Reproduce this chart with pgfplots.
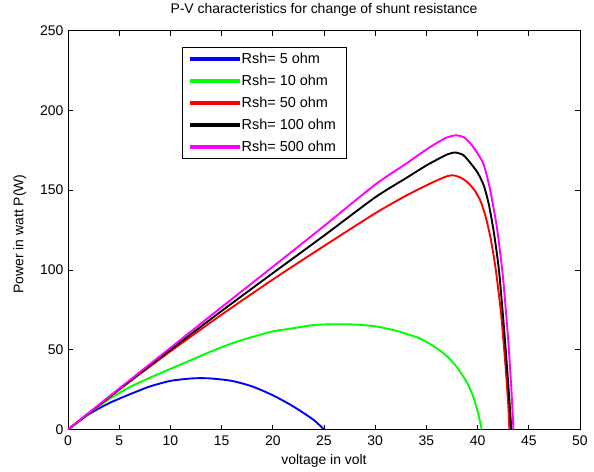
\documentclass[border=0pt]{standalone}
\usepackage{pgfplots}
\pgfplotsset{compat=1.18}
\usepackage{fontspec}
\setmainfont{Liberation Sans}
\definecolor{mblue}{rgb}{0,0,1}
\definecolor{mgreen}{rgb}{0,1,0}
\definecolor{mred}{rgb}{1,0,0}
\definecolor{mmag}{rgb}{1,0,1}
\begin{document}
\begin{tikzpicture}
\begin{axis}[
  scale only axis,
  width=512bp, height=399bp,
  xmin=0, xmax=50, ymin=0, ymax=250,
  xtick={0,5,...,50}, ytick={0,50,...,250},
  tick align=inside,
  tick pos=both,
  axis line style={line width=1pt},
  major tick style={line width=0.8pt, black},
  major tick length=5bp,
  font=\fontsize{14}{16}\selectfont,
  /pgf/number format/assume math mode=true,
  xticklabel style={yshift=-3bp},
  yticklabel style={xshift=-1bp},
  title={P-V characteristics for change of shunt resistance},
  title style={at={(axis description cs:0.5,1.037)},anchor=center},
  xlabel={voltage in volt},
  xlabel style={at={(axis description cs:0.5,-0.078)},anchor=center},
  ylabel={Power in watt P(W)},
  ylabel style={at={(axis description cs:-0.094,0.49)},anchor=center},
  legend style={at={(0.222,0.96)}, anchor=north west, draw=black, line width=1pt,
    font=\fontsize{14.5}{16.5}\selectfont, row sep=6bp, inner xsep=8bp, inner ysep=4bp},
  legend cell align=left,
  legend image code/.code={\fill[#1] (0cm,-0.95pt) rectangle (1.68cm,0.95pt);},
  every axis plot/.append style={line width=1.9pt, smooth, tension=0.4},
]
\addplot[mblue] coordinates {(0,0) (2,9.5) (4,16.5) (6,22) (8,27) (10,30.5) (12,32) (13,32.2) (14,32) (16,30.5) (18,27) (20,21.5) (22,14.5) (24,6) (25,0)};
\addlegendentry{Rsh= 5 ohm}
\addplot[mgreen] coordinates {(0,0) (2,10) (4,19) (6,26.5) (8,32.5) (10,38) (12,43.5) (14,49) (16,54) (18,58) (20,61.5) (22,63.5) (24,65.5) (26,66) (28,65.8) (30,64.7) (32,62) (34,58) (35,55) (36,51) (37,46) (38,39) (39,29) (39.6,20) (40.1,9) (40.4,0)};
\addlegendentry{Rsh= 10 ohm}
\addplot[mred] coordinates {(0,0) (5,25) (10,49) (15,72) (20,94) (25,115) (30,135.5) (33,146.5) (35,153) (36,156) (37,158.7) (37.6,159.3) (38.3,158) (39,155) (39.7,150) (40.3,143) (40.8,133) (41.3,119) (41.8,99) (42.3,72) (42.7,42) (43,15) (43.1,0)};
\addlegendentry{Rsh= 50 ohm}
\addplot[black] coordinates {(0,0) (5,25.3) (10,50) (15,74.3) (20,98) (25,121.5) (30,145.5) (33,157.5) (35,165.5) (36,169) (37,172.3) (37.8,173.6) (38.6,172) (39.3,167) (40,161) (40.6,153) (41.1,141) (41.6,123) (42.1,99) (42.6,62) (43,28) (43.3,0)};
\addlegendentry{Rsh= 100 ohm}
\addplot[mmag] coordinates {(0,0) (5,25.7) (10,51.2) (15,76.7) (20,102) (25,127.5) (30,153.5) (33,166.5) (35,175.5) (36,179.5) (37,183) (37.9,184.4) (38.7,183) (39.4,178.5) (40.1,172) (40.6,166) (41.2,151) (41.9,126) (42.5,94) (43,55) (43.3,25) (43.5,0)};
\addlegendentry{Rsh= 500 ohm}
\end{axis}
\path (current axis.south west) ++(-68bp,-42bp) rectangle ++(594bp,469bp);
\end{tikzpicture}
\end{document}
